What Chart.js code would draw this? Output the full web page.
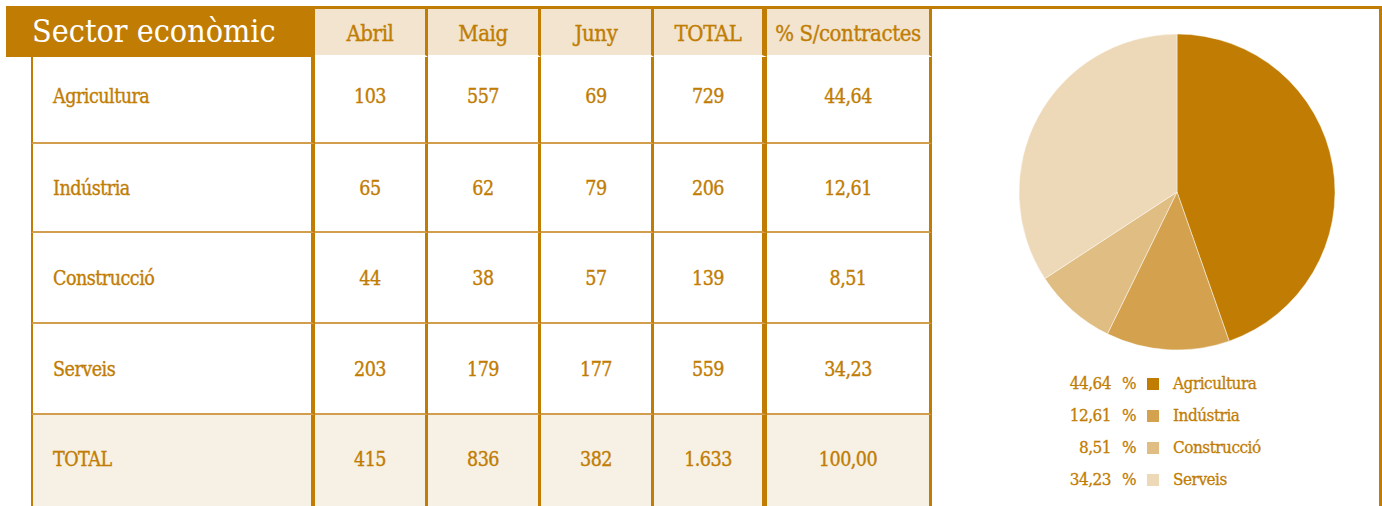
<!DOCTYPE html>
<html>
<head>
<meta charset="utf-8">
<script src="https://cdn.jsdelivr.net/npm/chart.js@4"></script>
<style>
  body {
    margin: 0;
    width: 1382px;
    height: 506px;
    overflow: hidden;
    background: #fff;
    position: relative;
    font-family: "DejaVu Serif Condensed", "DejaVu Serif", serif;
    font-stretch: condensed;
    color: #c17d03;
  }
  #title {
    position: absolute;
    left: 6px; top: 6px;
    width: 309px; height: 51px;
    box-sizing: border-box;
    padding-left: 26px;
    background: #c17d03;
    color: #fff;
    font-size: 32px;
    line-height: 50px;
    z-index: 2;
  }
  #data-table {
    position: absolute;
    left: 31px; top: 6px;
    width: 901px;
    table-layout: fixed;
    border-collapse: separate;
    border-spacing: 0;
    -webkit-text-stroke: 0.35px #c17d03;
  }
  #data-table th, #data-table td {
    box-sizing: border-box;
    padding: 0;
    text-align: center;
    font-weight: normal;
    border-right: 3px solid #c17d03;
  }
  #data-table th {
    height: 51px;
    padding-top: 3px;
    background: #f2e4ce;
    border-top: 3px solid #c17d03;
    border-bottom: 2px solid #fff;
    font-size: 22px;
    letter-spacing: -0.4px;
  }
  #data-table td {
    font-size: 19.5px;
    letter-spacing: -0.5px;
    padding-top: 2px;
    border-bottom: 2px solid #d29d4c;
  }
  #data-table tr.first td { padding-top: 0; padding-bottom: 6px; }
  #data-table tr.total td { padding-top: 0; padding-bottom: 5px; background: #f7f0e4; }
  #data-table .name {
    text-align: left;
    padding-left: 20px;
    border-left: 2px solid #c17d03;
    border-right: 4px solid #c17d03;
  }
  #data-table .pct-col { border-right: 5px solid #c17d03; }
  #pie-panel {
    position: absolute;
    left: 929px; top: 6px;
    width: 453px; height: 520px;
    box-sizing: border-box;
    border-top: 3px solid #c17d03;
    border-right: 3px solid #c17d03;
  }
  #pie-box {
    position: absolute;
    left: 1017px; top: 32px;
    width: 320px; height: 320px;
  }
  #legend {
    position: absolute;
    left: 1040px; top: 367px;
    font-size: 17px;
    letter-spacing: -0.5px;
    -webkit-text-stroke: 0.3px #c17d03;
  }
  #legend .row { height: 32px; line-height: 32px; white-space: nowrap; }
  #legend .num { display: inline-block; width: 71px; text-align: right; }
  #legend .pc { display: inline-block; margin-left: 11px; }
  #legend .sq { display: inline-block; width: 12px; height: 12px; margin-left: 11px; vertical-align: -1px; }
  #legend .lab { display: inline-block; margin-left: 14px; }
</style>
</head>
<body>
<div id="title">Sector econòmic</div>
<table id="data-table">
  <colgroup>
    <col style="width:284px"><col style="width:113px"><col style="width:113px">
    <col style="width:113px"><col style="width:113px"><col style="width:165px">
  </colgroup>
  <thead><tr id="head-row"><th class="name"></th></tr></thead>
  <tbody id="table-body"></tbody>
</table>
<div id="pie-panel"></div>
<div id="pie-box"><canvas id="pie-chart" width="320" height="320"></canvas></div>
<div id="legend"></div>

<script>
const categories = ['Agricultura', 'Indústria', 'Construcció', 'Serveis'];
const columnLabels = ['Abril', 'Maig', 'Juny', 'TOTAL', '% S/contractes'];
const abril = [103, 65, 44, 203];
const maig = [557, 62, 38, 179];
const juny = [69, 79, 57, 177];
const totals = [729, 206, 139, 559];
const percentages = [44.64, 12.61, 8.51, 34.23];
// fila TOTAL: Abril, Maig, Juny, TOTAL, %
const totalRow = [415, 836, 382, 1633, 100.00];

const sliceColors = ['#c17d03', '#d4a24e', '#e0bd82', '#edd9b7'];
const rowHeights = [87, 89, 91, 91, 96];

function fmtInt(n) {
  return String(n).replace(/\B(?=(\d{3})+(?!\d))/g, '.');
}
function fmtPct(n) {
  return n.toFixed(2).replace('.', ',');
}

const headRow = document.getElementById('head-row');
columnLabels.forEach((label, i) => {
  const th = document.createElement('th');
  th.innerHTML = label;
  if (i === 3) th.className = 'pct-col';
  headRow.appendChild(th);
});

function createRow(name, values, height, rowClass) {
  const row = document.createElement('tr');
  if (rowClass) row.className = rowClass;
  const nameCell = document.createElement('td');
  nameCell.className = 'name';
  nameCell.innerHTML = name;
  nameCell.style.height = height + 'px';
  row.appendChild(nameCell);
  values.forEach((v, i) => {
    const cell = document.createElement('td');
    cell.innerHTML = i === 4 ? fmtPct(v) : fmtInt(v);
    if (i === 3) cell.className = 'pct-col';
    row.appendChild(cell);
  });
  return row;
}

const tableBody = document.getElementById('table-body');
categories.forEach((c, i) => {
  tableBody.appendChild(createRow(c, [abril[i], maig[i], juny[i], totals[i], percentages[i]], rowHeights[i], i === 0 ? 'first' : ''));
});
tableBody.appendChild(createRow('TOTAL', totalRow, rowHeights[4], 'total'));

new Chart(document.getElementById('pie-chart'), {
  type: 'pie',
  data: {
    labels: categories,
    datasets: [{
      data: percentages,
      backgroundColor: sliceColors,
      borderColor: 'rgba(255,255,255,0.45)',
      borderWidth: 1,
      radius: 158
    }]
  },
  options: {
    responsive: false,
    animation: false,
    layout: { padding: 0 },
    plugins: {
      legend: { display: false },
      tooltip: { enabled: false }
    }
  }
});

const legend = document.getElementById('legend');
categories.forEach((c, i) => {
  const row = document.createElement('div');
  row.className = 'row';
  row.innerHTML = '<span class="num">' + fmtPct(percentages[i]) + '</span>' +
    '<span class="pc">%</span>' +
    '<span class="sq" style="background:' + sliceColors[i] + '"></span>' +
    '<span class="lab">' + c + '</span>';
  legend.appendChild(row);
});
</script>
</body>
</html>
